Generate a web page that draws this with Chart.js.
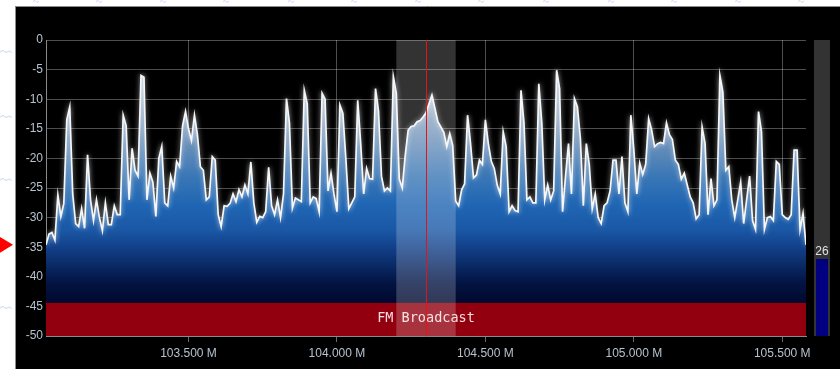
<!DOCTYPE html>
<html>
<head>
<meta charset="utf-8">
<script src="https://cdn.jsdelivr.net/npm/chart.js@4.4.1/dist/chart.umd.min.js"></script>
<style>
  html, body { margin: 0; padding: 0; background: #ffffff; overflow: hidden; }
  canvas { display: block; }
</style>
</head>
<body>
<canvas id="spectrum" width="840" height="369"></canvas>
<script>
// Spectrum sweep: 257 bins, 10 kHz apart, starting at 103.02 MHz
const startMHz = 103.02;
const binMHz = 0.01;
const levelDb = [
  -34.6, -32.8, -32.5, -33.8, -26.2, -29.8, -27.6, -13.5, -11.3, -26.0,
  -31.0, -31.5, -28.5, -31.8, -19.4, -27.0, -30.5, -27.0, -30.0, -32.2,
  -27.5, -31.2, -31.2, -28.0, -29.5, -29.5, -12.7, -14.5, -27.0, -18.3,
  -22.0, -23.0, -6.0, -6.3, -27.0, -22.5, -24.0, -29.8, -20.0, -18.0,
  -27.5, -28.0, -23.0, -25.0, -20.5, -21.4, -14.5, -12.1, -15.0, -17.0,
  -12.7, -16.0, -21.4, -22.0, -27.0, -26.5, -19.7, -20.3, -29.5, -31.5,
  -28.0, -28.1, -27.6, -26.0, -27.3, -25.3, -26.5, -24.5, -26.0, -20.6,
  -27.5, -30.8, -29.8, -30.0, -29.0, -21.5, -28.0, -29.5, -27.0, -30.0,
  -26.0, -9.9, -14.0, -28.4, -26.7, -27.0, -27.3, -8.5, -10.8, -27.5,
  -26.5, -26.8, -29.0, -9.0, -10.0, -25.5, -22.5, -26.0, -29.0, -11.0,
  -12.4, -20.0, -28.5, -27.5, -26.5, -10.2, -17.5, -26.0, -21.7, -23.4,
  -23.5, -8.2, -12.0, -23.0, -25.5, -25.0, -25.5, -6.2, -9.0, -23.5,
  -25.0, -19.5, -15.2, -14.6, -14.5, -13.8, -13.6, -13.0, -12.3, -10.8,
  -9.3, -11.5, -13.8, -14.7, -15.6, -18.0, -15.8, -17.8, -27.2, -28.0,
  -25.3, -24.3, -12.7, -17.5, -23.3, -22.8, -20.3, -21.0, -13.5, -17.5,
  -20.5, -21.7, -24.5, -26.0, -15.5, -18.0, -29.0, -28.0, -28.8, -29.0,
  -8.5, -14.0, -27.0, -26.5, -27.5, -27.5, -7.4, -14.0, -27.0, -24.5,
  -27.0, -25.5, -5.1, -8.2, -29.0, -23.0, -17.5, -26.0, -9.9, -11.3,
  -16.6, -28.0, -17.5, -21.1, -28.5, -26.0, -30.0, -31.0, -28.0, -27.5,
  -25.5, -20.3, -20.3, -26.0, -19.7, -27.5, -29.0, -12.7, -18.5, -26.0,
  -20.8, -22.7, -21.0, -13.3, -15.2, -18.0, -17.5, -17.3, -17.5, -14.0,
  -16.0, -16.8, -20.3, -21.0, -23.5, -22.5, -24.5, -26.5, -27.5, -30.2,
  -29.5, -14.7, -17.5, -29.5, -23.4, -28.0, -27.0, -6.0, -8.8, -22.0,
  -21.4, -27.0, -30.0, -27.0, -24.0, -31.0, -27.0, -23.0, -30.5, -32.0,
  -12.1, -15.5, -32.0, -30.0, -29.8, -30.5, -20.5, -21.0, -29.5, -30.0,
  -30.3, -29.5, -18.6, -18.6, -32.0, -29.3, -34.6
];
const freqTicksMHz = [103.5, 104.0, 104.5, 105.0, 105.5];
const dbMin = -50;
const dbMax = 0;
const dbStep = 5;

// Tuning, band plan and meter
const tunedMHz = 104.3;
const filterWidthMHz = 0.2;
const bandLabel = 'FM Broadcast';
const bandStartMHz = 87.5;
const bandEndMHz = 108.0;
const bandTopDb = -44.4;
const squelchDb = -34.6;
const snrValue = 26;
const snrMax = 100;

const endMHz = startMHz + binMHz * (levelDb.length - 1);
const points = levelDb.map((v, i) => ({ x: startMHz + i * binMHz, y: v }));

// Vertical colour ramp of the area under the trace, keyed by level in dB
const areaStops = [
  [0, '#d6dde6'], [-10, '#a3b6ca'], [-17, '#6e92ba'], [-23, '#3a77b6'],
  [-28, '#1f65b3'], [-32, '#1a58a6'], [-35, '#12408a'], [-38, '#0a2a66'],
  [-41, '#031443'], [-45, '#00062a'], [-50, '#000018']
];

function areaFill(context) {
  const chart = context.chart;
  const { ctx, chartArea, scales } = chart;
  if (!chartArea) return 'rgba(30,100,180,0.8)';
  const y = scales.y;
  const top = y.getPixelForValue(dbMax);
  const bottom = y.getPixelForValue(dbMin);
  const g = ctx.createLinearGradient(0, top, 0, bottom);
  areaStops.forEach(([db, col]) => g.addColorStop((dbMax - db) / (dbMax - dbMin), col));
  return g;
}

// Dark panel behind the display, with the page margin around it
const panelPlugin = {
  id: 'panel',
  beforeDraw(chart) {
    const c = chart.ctx;
    c.save();
    c.fillStyle = '#ffffff';
    c.fillRect(0, 0, chart.width, chart.height);
    // faint margin marks
    c.strokeStyle = '#c9d7f4';
    c.lineWidth = 1;
    [35, 98, 162, 225, 290, 353, 417, 480, 545, 610, 673, 737, 800].forEach(px => {
      c.beginPath();
      c.moveTo(px - 2, 1.5); c.lineTo(px, 0.5); c.lineTo(px + 2, 2.5); c.lineTo(px + 4, 1);
      c.stroke();
    });
    [52, 117, 180, 308].forEach(py => {
      c.beginPath();
      c.moveTo(0, py); c.lineTo(3, py - 1.5); c.lineTo(6, py + 0.5); c.lineTo(9, py - 1); c.lineTo(12, py + 0.5);
      c.stroke();
    });
    c.fillStyle = '#000000';
    c.fillRect(15, 6, chart.width - 15, chart.height - 6);
    c.strokeStyle = '#8c8c8c';
    c.beginPath();
    c.moveTo(15, 6.5); c.lineTo(chart.width, 6.5);
    c.moveTo(15.5, 6); c.lineTo(15.5, chart.height);
    c.stroke();
    c.restore();
  }
};

// Soft white glow on the trace line
const glowPlugin = {
  id: 'glow',
  beforeDatasetDraw(chart, args) {
    if (chart.data.datasets[args.index].label !== 'trace') return;
    chart.ctx.save();
    chart.ctx.shadowColor = 'rgba(255,255,255,0.75)';
    chart.ctx.shadowBlur = 5;
  },
  afterDatasetDraw(chart, args) {
    if (chart.data.datasets[args.index].label !== 'trace') return;
    chart.ctx.restore();
  }
};

// Band plan strip, receiver passband, tuning marker, squelch arrow and SNR meter
const overlayPlugin = {
  id: 'overlay',
  afterDraw(chart) {
    const { ctx: c, chartArea: a, scales: { x, y } } = chart;
    c.save();
    c.beginPath();
    c.rect(a.left, a.top, a.right - a.left, a.bottom - a.top);
    c.clip();

    const bx0 = Math.max(a.left, x.getPixelForValue(bandStartMHz));
    const bx1 = Math.min(a.right, x.getPixelForValue(bandEndMHz));
    const by0 = y.getPixelForValue(bandTopDb);
    const by1 = y.getPixelForValue(dbMin);
    c.fillStyle = '#92000f';
    c.fillRect(bx0, by0, bx1 - bx0, by1 - by0);
    c.fillStyle = 'rgba(255,240,244,0.92)';
    c.font = '13.5px "DejaVu Sans Mono", "Liberation Mono", monospace';
    c.textAlign = 'center';
    c.textBaseline = 'middle';
    c.fillText(bandLabel, (bx0 + bx1) / 2, (by0 + by1) / 2 - 1);

    const fx0 = x.getPixelForValue(tunedMHz - filterWidthMHz / 2);
    const fx1 = x.getPixelForValue(tunedMHz + filterWidthMHz / 2);
    c.fillStyle = 'rgba(255,255,255,0.2)';
    c.fillRect(fx0, a.top, fx1 - fx0, a.bottom - a.top);

    const tx = Math.round(x.getPixelForValue(tunedMHz)) + 0.5;
    c.strokeStyle = '#e81212';
    c.lineWidth = 1;
    c.beginPath();
    c.moveTo(tx, a.top); c.lineTo(tx, a.bottom);
    c.stroke();
    c.restore();

    // squelch level arrow at the left margin
    const sy = y.getPixelForValue(squelchDb);
    c.save();
    c.fillStyle = '#ff0000';
    c.beginPath();
    c.moveTo(-2, sy - 9); c.lineTo(13, sy); c.lineTo(-2, sy + 9);
    c.closePath();
    c.fill();
    c.restore();

    // SNR meter
    const mx = a.right + 8, mw = 16;
    const mh = a.bottom - a.top;
    c.save();
    c.fillStyle = '#333333';
    c.fillRect(mx, a.top, mw, mh);
    const fh = Math.round(mh * snrValue / snrMax);
    c.fillStyle = '#000080';
    c.fillRect(mx + 2, a.bottom - fh, mw - 4, fh);
    c.fillStyle = '#e2e2e2';
    c.font = '12px "Liberation Sans", Arial, sans-serif';
    c.textAlign = 'center';
    c.textBaseline = 'bottom';
    c.fillText(String(snrValue), mx + mw / 2, a.bottom - fh - 1);
    c.restore();
  }
};

const tickFont = { family: '"Liberation Sans", Arial, sans-serif', size: 12 };
const tickColor = '#b6c2ce';
const gridColor = 'rgba(255,255,255,0.3)';

new Chart(document.getElementById('spectrum'), {
  type: 'line',
  data: {
    datasets: [
      {
        label: 'trace',
        data: points,
        borderColor: '#f4f6f8',
        borderWidth: 1.7,
        pointRadius: 0,
        fill: false,
        tension: 0,
        order: 0
      },
      {
        label: 'area',
        data: points,
        borderWidth: 0,
        borderColor: 'rgba(0,0,0,0)',
        pointRadius: 0,
        fill: 'start',
        backgroundColor: areaFill,
        tension: 0,
        order: 1
      }
    ]
  },
  options: {
    responsive: false,
    animation: false,
    events: [],
    layout: { padding: { left: 15, top: 40, right: 34, bottom: 0 } },
    plugins: {
      legend: { display: false },
      tooltip: { enabled: false }
    },
    scales: {
      x: {
        type: 'linear',
        min: startMHz,
        max: endMHz,
        z: 1,
        afterBuildTicks: s => { s.ticks = freqTicksMHz.map(v => ({ value: v })); },
        afterFit: s => { s.height = 33; },
        ticks: {
          color: tickColor,
          font: tickFont,
          padding: 4,
          maxRotation: 0,
          autoSkip: false,
          callback: v => Number(v).toFixed(3) + ' M'
        },
        grid: { color: gridColor, lineWidth: 1, tickLength: 6, tickColor: '#6a6a6a' },
        border: { color: '#8a8a8a' }
      },
      y: {
        min: dbMin,
        max: dbMax,
        z: 1,
        afterFit: s => { s.width = 31; },
        ticks: { stepSize: dbStep, color: tickColor, font: tickFont, padding: 3 },
        grid: { color: gridColor, lineWidth: 1, drawTicks: false },
        border: { color: '#8a8a8a' }
      }
    }
  },
  plugins: [panelPlugin, glowPlugin, overlayPlugin]
});
</script>
</body>
</html>
